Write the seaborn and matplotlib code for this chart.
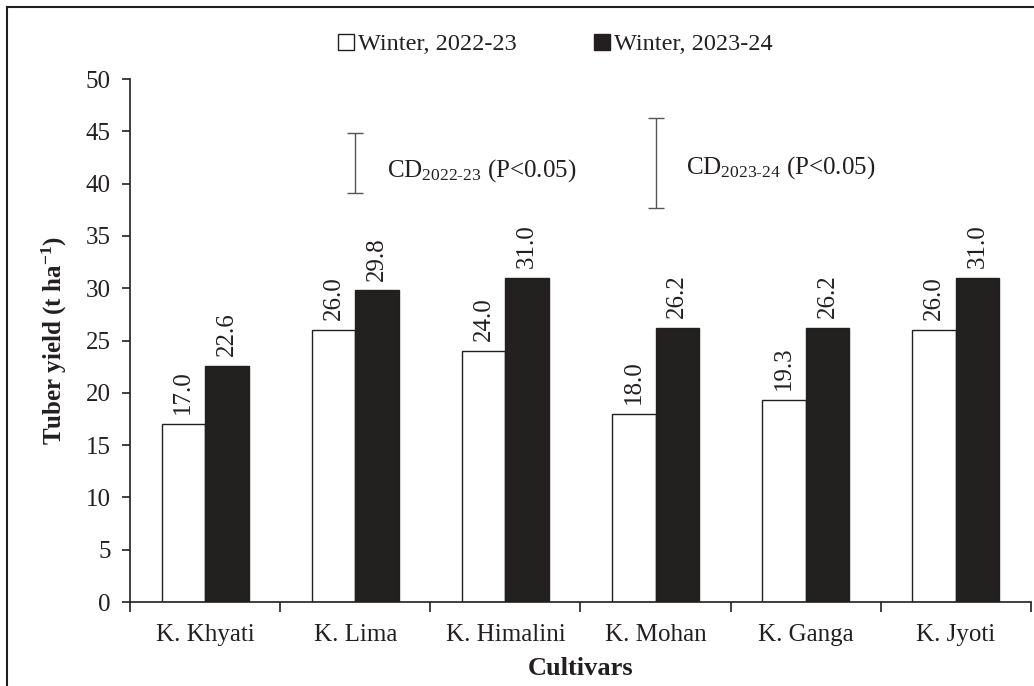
import numpy as np
import pandas as pd
import matplotlib
matplotlib.use('Agg')
import matplotlib.pyplot as plt
import seaborn as sns
from matplotlib.patches import Rectangle, Patch

# data
cultivars = ['K. Khyati', 'K. Lima', 'K. Himalini', 'K. Mohan', 'K. Ganga', 'K. Jyoti']
yield_2022 = [17.0, 26.0, 24.0, 18.0, 19.3, 26.0]
yield_2023 = [22.6, 29.8, 31.0, 26.2, 26.2, 31.0]
seasons = ['Winter, 2022-23', 'Winter, 2023-24']
cd_2022 = (39.1, 44.8)   # CD bar ends, drawn above K. Lima
cd_2023 = (37.7, 46.3)   # CD bar ends, drawn above K. Mohan

df = pd.DataFrame({
    'Cultivar': cultivars * 2,
    'Season': [seasons[0]] * len(cultivars) + [seasons[1]] * len(cultivars),
    'Yield': yield_2022 + yield_2023,
})

sns.set_style('white')
plt.rcParams['font.family'] = ['Liberation Serif', 'DejaVu Serif']
plt.rcParams['mathtext.fontset'] = 'custom'
plt.rcParams['mathtext.rm'] = 'Liberation Serif'
plt.rcParams['mathtext.it'] = 'Liberation Serif:italic'
plt.rcParams['mathtext.bf'] = 'Liberation Serif:bold'

INK = '#231f20'

fig = plt.figure(figsize=(10.34, 6.86), dpi=100)
ax = fig.add_axes([0.1257, 0.1224, 0.8714, 0.7624])

sns.barplot(data=df, x='Cultivar', y='Yield', hue='Season',
            palette=['white', INK], edgecolor=INK, linewidth=1.0,
            width=0.58, ax=ax, legend=False)

for cont in ax.containers:
    ax.bar_label(cont, fmt='%.1f', rotation=90, padding=7, fontsize=18, color=INK)

ax.set_ylim(0, 50)
ax.set_xlim(-0.5, 5.5)
ax.set_yticks(np.arange(0, 51, 5))
ax.tick_params(axis='y', labelsize=18, length=6, width=1.2, direction='out',
               left=True, pad=8, colors=INK)
ax.set_xticks(np.arange(len(cultivars)))
ax.tick_params(axis='x', which='major', labelsize=18, length=0, pad=16, colors=INK)
ax.set_xticks(np.arange(-0.5, len(cultivars), 1.0), minor=True)
ax.tick_params(axis='x', which='minor', length=7, width=1.2, direction='out',
               bottom=True, color=INK)
for s in ['top', 'right']:
    ax.spines[s].set_visible(False)
for s in ['left', 'bottom']:
    ax.spines[s].set_color(INK)
    ax.spines[s].set_linewidth(1.2)

ax.set_xlabel('Cultivars', fontsize=19, fontweight='bold', color=INK, labelpad=8)
ax.set_ylabel('Tuber yield (t ha$^{\\mathbf{-1}}$)', fontsize=18,
              fontweight='bold', color=INK, labelpad=12)

# CD bars
ax.errorbar([1.0], [np.mean(cd_2022)], yerr=[(cd_2022[1] - cd_2022[0]) / 2],
            color='#555555', capsize=6, lw=1.0, capthick=1.0)
ax.errorbar([3.0], [np.mean(cd_2023)], yerr=[(cd_2023[1] - cd_2023[0]) / 2],
            color='#555555', capsize=6, lw=1.0, capthick=1.0)
ax.text(1.21, 41.2, 'CD$_{\\mathrm{2022\\text{-}23}}$ (P<0.05)', fontsize=18,
        va='center', color=INK)
ax.text(3.2, 41.5, 'CD$_{\\mathrm{2023\\text{-}24}}$ (P<0.05)', fontsize=18,
        va='center', color=INK)

# legend
handles = [Patch(facecolor='white', edgecolor=INK),
           Patch(facecolor=INK, edgecolor=INK)]
fig.legend(handles, seasons, loc='center', bbox_to_anchor=(0.537, 0.935),
           ncol=2, frameon=False, fontsize=17.5, handlelength=0.65, handleheight=0.65,
           handletextpad=0.15, columnspacing=3.2, labelcolor=INK)

# outer frame
fig.patches.append(Rectangle((0.007, -0.05), 1.05, 1.04, transform=fig.transFigure,
                             fill=False, edgecolor=INK, lw=1.5))

plt.savefig('out.png', dpi=100)
